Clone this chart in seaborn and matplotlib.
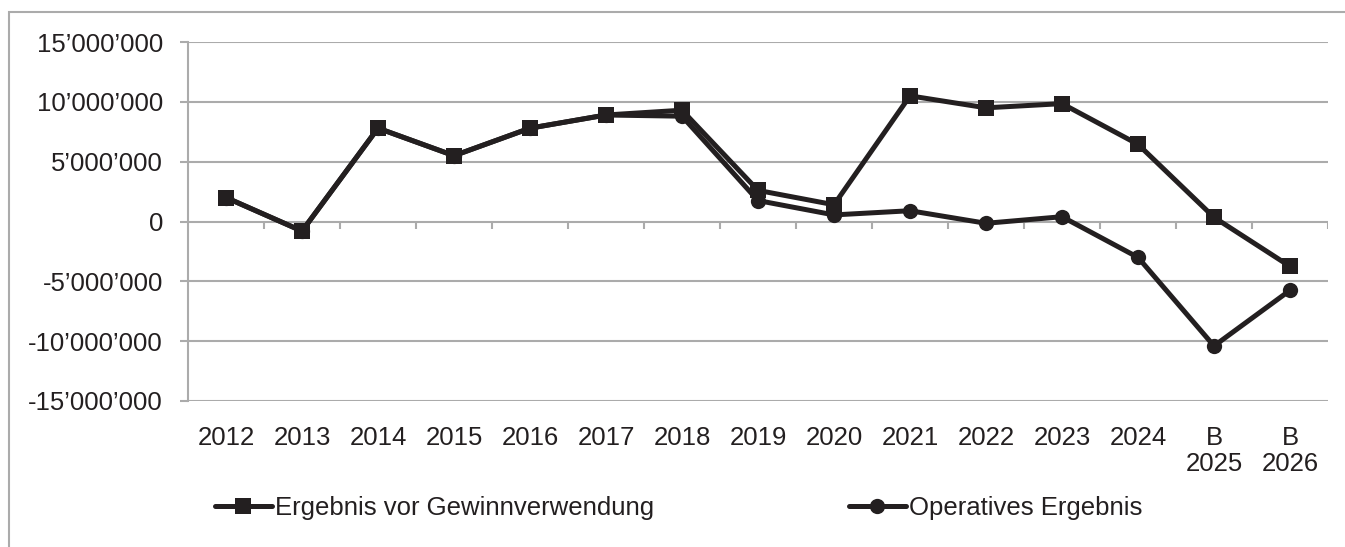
import pandas as pd
import matplotlib.pyplot as plt
import seaborn as sns
from matplotlib.ticker import FuncFormatter
from matplotlib.patches import Rectangle

# Werte
jahre = ["2012", "2013", "2014", "2015", "2016", "2017", "2018", "2019", "2020",
         "2021", "2022", "2023", "2024", "B\n2025", "B\n2026"]
ergebnis_vor_gv = [2.0e6, -0.8e6, 7.8e6, 5.5e6, 7.8e6, 8.9e6, 9.3e6, 2.6e6, 1.4e6,
                   10.5e6, 9.5e6, 9.85e6, 6.45e6, 0.35e6, -3.75e6]
operatives_ergebnis = [2.0e6, -0.8e6, 7.8e6, 5.5e6, 7.8e6, 8.9e6, 8.8e6, 1.75e6, 0.55e6,
                       0.9e6, -0.15e6, 0.4e6, -3.0e6, -10.4e6, -5.75e6]
y_ticks = [-15e6, -10e6, -5e6, 0, 5e6, 10e6, 15e6]

dark = "#231f20"
grey = "#ababab"

sns.set_theme(style="white")
plt.rcParams["font.family"] = ["Liberation Sans", "DejaVu Sans"]

df = pd.DataFrame({"pos": range(len(jahre)), "jahr": jahre,
                   "vor": ergebnis_vor_gv, "op": operatives_ergebnis})

fig = plt.figure(figsize=(13.45, 5.47), dpi=100)
ax = fig.add_axes([188 / 1345, 1 - 401 / 547, 1140 / 1345, 359 / 547])

# Rahmen des Diagramms
fig.patches.append(Rectangle((9 / 1345, -0.1), 1.2, 1 - 12 / 547 + 0.1,
                             transform=fig.transFigure, fill=False,
                             edgecolor=grey, linewidth=1.5))

sns.lineplot(data=df, x="pos", y="op", ax=ax, color=dark, linewidth=3.6,
             marker="o", markersize=13, markeredgewidth=0,
             label="Operatives Ergebnis")
sns.lineplot(data=df, x="pos", y="vor", ax=ax, color=dark, linewidth=3.6,
             marker="s", markersize=14, markeredgewidth=0,
             label="Ergebnis vor Gewinnverwendung")

ax.set_xlim(-0.5, len(jahre) - 0.5)
ax.set_ylim(-15e6, 15e6)
ax.set_yticks(y_ticks)
ax.yaxis.set_major_formatter(FuncFormatter(lambda v, p: f"{int(v):,}".replace(",", "\u2019")))
ax.set_xticks(df["pos"])
ax.set_xticklabels(jahre, va="top", linespacing=1.1)
ax.set_xlabel("")
ax.set_ylabel("")

ax.grid(axis="y", color=grey, linewidth=1.5)
ax.set_axisbelow(True)
for s in ["top", "right", "bottom"]:
    ax.spines[s].set_visible(False)
ax.spines["left"].set_color(grey)
ax.spines["left"].set_linewidth(1.5)

ax.tick_params(axis="y", length=6, width=1.5, color=grey, pad=12,
               labelsize=18.5, labelcolor=dark, left=True)
ax.tick_params(axis="x", length=0, pad=18, labelsize=18.5, labelcolor=dark)

# Kategorie-Trennstriche an der Nulllinie
ax.vlines([p + 0.5 for p in df["pos"]], 0, -0.65e6, color=grey, linewidth=1.5, zorder=1)

handles, labels = ax.get_legend_handles_labels()
ax.get_legend().remove()
for h in handles:
    h.set_markersize(11)
fig.legend(handles[::-1], labels[::-1], loc="center left",
           bbox_to_anchor=(215 / 1345, 1 - 508 / 547), ncol=2, frameon=False,
           fontsize=18.5, labelcolor=dark, handlelength=2.2, handletextpad=0.12,
           columnspacing=7.6, borderpad=0, borderaxespad=0)

fig.savefig("out.png", dpi=100)
